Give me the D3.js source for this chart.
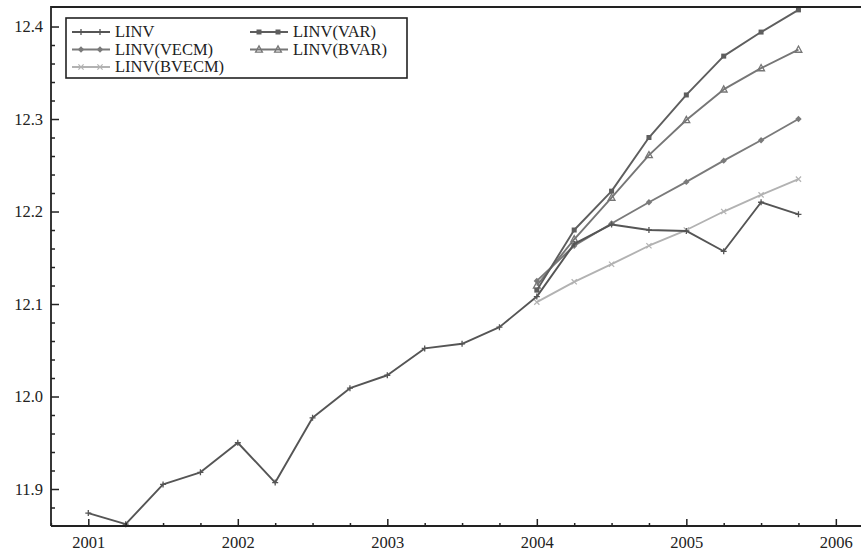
<!DOCTYPE html>
<html>
<head>
<meta charset="utf-8">
<script src="https://cdn.jsdelivr.net/npm/d3@7"></script>
<style>
  html, body { margin: 0; padding: 0; background: #fff; }
  svg { display: block; }
  text { font-family: "Liberation Serif", "DejaVu Serif", serif; fill: #222; }
</style>
</head>
<body>
<svg id="chart" width="861" height="553"></svg>
<script>
// Quarterly log investment (LINV) and out-of-sample forecasts, 2004Q1–2005Q4
const histDates = [2001.00, 2001.25, 2001.50, 2001.75, 2002.00, 2002.25, 2002.50, 2002.75,
                   2003.00, 2003.25, 2003.50, 2003.75, 2004.00, 2004.25, 2004.50, 2004.75,
                   2005.00, 2005.25, 2005.50, 2005.75];
const linv = [11.874, 11.862, 11.905, 11.918, 11.950, 11.907, 11.977, 12.009,
              12.023, 12.052, 12.057, 12.075, 12.108, 12.165, 12.186, 12.180,
              12.179, 12.157, 12.210, 12.197];

const fcDates = [2004.00, 2004.25, 2004.50, 2004.75, 2005.00, 2005.25, 2005.50, 2005.75];
const linvVar   = [12.115, 12.180, 12.222, 12.280, 12.326, 12.368, 12.394, 12.418];
const linvVecm  = [12.125, 12.163, 12.187, 12.210, 12.232, 12.255, 12.277, 12.300];
const linvBvar  = [12.120, 12.170, 12.215, 12.261, 12.299, 12.332, 12.355, 12.375];
const linvBvecm = [12.102, 12.124, 12.143, 12.163, 12.180, 12.200, 12.218, 12.235];

const yearTicks = [2001, 2002, 2003, 2004, 2005, 2006];
const valueTicks = [11.9, 12.0, 12.1, 12.2, 12.3, 12.4];

const svg = d3.select("#chart");
const plotLeft = 51, plotRight = 862, plotTop = 7, plotBottom = 526;

const x = d3.scaleLinear().domain([2000.7505, 2006.175]).range([plotLeft, plotRight]);
const y = d3.scaleLinear().domain([11.86, 12.4211]).range([plotBottom, plotTop]);

// series definitions
const series = [
  { name: "LINV",        dates: histDates, values: linv,      color: "#555", marker: "plus" },
  { name: "LINV(VAR)",   dates: fcDates,   values: linvVar,   color: "#5e5e5e", marker: "square" },
  { name: "LINV(VECM)",  dates: fcDates,   values: linvVecm,  color: "#7a7a7a", marker: "diamond" },
  { name: "LINV(BVAR)",  dates: fcDates,   values: linvBvar,  color: "#767676", marker: "triangle" },
  { name: "LINV(BVECM)", dates: fcDates,   values: linvBvecm, color: "#b2b2b2", marker: "cross" }
];

function drawMarker(g, kind, cx, cy, color) {
  if (kind === "plus") {
    g.append("path").attr("d", `M${cx},${cy-3}V${cy+3}M${cx-3},${cy}H${cx+3}`)
      .attr("stroke", color).attr("stroke-width", 1.3).attr("fill", "none");
  } else if (kind === "square") {
    g.append("rect").attr("x", cx-2.5).attr("y", cy-2.5).attr("width", 5).attr("height", 5)
      .attr("fill", color);
  } else if (kind === "diamond") {
    g.append("path").attr("d", `M${cx},${cy-3.2}L${cx+3.2},${cy}L${cx},${cy+3.2}L${cx-3.2},${cy}Z`)
      .attr("fill", color);
  } else if (kind === "triangle") {
    g.append("path").attr("d", `M${cx},${cy-3.6}L${cx+3.4},${cy+2.6}L${cx-3.4},${cy+2.6}Z`)
      .attr("fill", "none").attr("stroke", color).attr("stroke-width", 1.3);
  } else if (kind === "cross") {
    g.append("path").attr("d", `M${cx-2.6},${cy-2.6}L${cx+2.6},${cy+2.6}M${cx-2.6},${cy+2.6}L${cx+2.6},${cy-2.6}`)
      .attr("stroke", color).attr("stroke-width", 1.2).attr("fill", "none");
  }
}

const plot = svg.append("g");
const line = d3.line().x(d => x(d[0])).y(d => y(d[1]));

// draw forecasts first, history on top
[series[4], series[2], series[3], series[1], series[0]].forEach(s => {
  const pts = s.dates.map((d, i) => [d, s.values[i]]);
  plot.append("path").datum(pts).attr("d", line)
    .attr("fill", "none").attr("stroke", s.color).attr("stroke-width", 1.9)
    .attr("stroke-linejoin", "round");
  const mg = plot.append("g");
  pts.forEach(p => drawMarker(mg, s.marker, x(p[0]), y(p[1]), s.color));
});

// frame
const frame = svg.append("g").attr("stroke", "#222").attr("stroke-width", 1.8).attr("fill", "none");
frame.append("path").attr("d", `M${plotLeft},${plotBottom}V${plotTop}H${plotRight}`);
frame.append("path").attr("d", `M${plotLeft},${plotBottom}H${plotRight}`);

// x axis: ticks point inward
const xMinor = d3.range(2000.75, 2006.2, 0.25).filter(v => Math.abs(v - Math.round(v)) > 1e-6);
const xAxis = d3.axisBottom(x).tickValues(yearTicks).tickSize(-7).tickPadding(10).tickFormat(d3.format("d"));
const gx = svg.append("g").attr("transform", `translate(0,${plotBottom})`).call(xAxis);
gx.select(".domain").remove();
gx.selectAll("line").attr("stroke", "#222").attr("stroke-width", 1.5);
gx.selectAll("text").attr("font-size", 16.5).attr("fill", "#222")
  .style("font-family", "'Liberation Serif', serif");
const gxm = svg.append("g").attr("transform", `translate(0,${plotBottom})`)
  .call(d3.axisBottom(x).tickValues(xMinor).tickSize(-3).tickFormat(""));
gxm.select(".domain").remove();
gxm.selectAll("line").attr("stroke", "#222").attr("stroke-width", 1.5);

// y axis: ticks point inward
const yMinor = d3.range(11.88, 12.42, 0.02).filter(v => Math.abs(v * 10 - Math.round(v * 10)) > 1e-6);
const yAxis = d3.axisLeft(y).tickValues(valueTicks).tickSize(-8).tickPadding(8).tickFormat(d3.format(".1f"));
const gy = svg.append("g").attr("transform", `translate(${plotLeft},0)`).call(yAxis);
gy.select(".domain").remove();
gy.selectAll("line").attr("stroke", "#222").attr("stroke-width", 1.5);
gy.selectAll("text").attr("font-size", 16.5).attr("fill", "#222")
  .style("font-family", "'Liberation Serif', serif");
const gym = svg.append("g").attr("transform", `translate(${plotLeft},0)`)
  .call(d3.axisLeft(y).tickValues(yMinor).tickSize(-4).tickFormat(""));
gym.select(".domain").remove();
gym.selectAll("line").attr("stroke", "#222").attr("stroke-width", 1.5);

// legend
const lg = svg.append("g");
lg.append("rect").attr("x", 66).attr("y", 18).attr("width", 341).attr("height", 60)
  .attr("fill", "#fff").attr("stroke", "#222").attr("stroke-width", 1.6);
const slots = [
  { s: series[0], x0: 72,  row: 0 },
  { s: series[1], x0: 250, row: 0 },
  { s: series[2], x0: 72,  row: 1 },
  { s: series[3], x0: 250, row: 1 },
  { s: series[4], x0: 72,  row: 2 }
];
slots.forEach(({ s, x0, row }) => {
  const cy = 32 + row * 17.5;
  lg.append("path").attr("d", `M${x0},${cy}H${x0 + 38}`)
    .attr("stroke", s.color).attr("stroke-width", 1.8);
  drawMarker(lg, s.marker, x0 + 9, cy, s.color);
  drawMarker(lg, s.marker, x0 + 28, cy, s.color);
  lg.append("text").attr("x", x0 + 43).attr("y", cy + 5)
    .attr("font-size", 16.5).text(s.name);
});
</script>
</body>
</html>
